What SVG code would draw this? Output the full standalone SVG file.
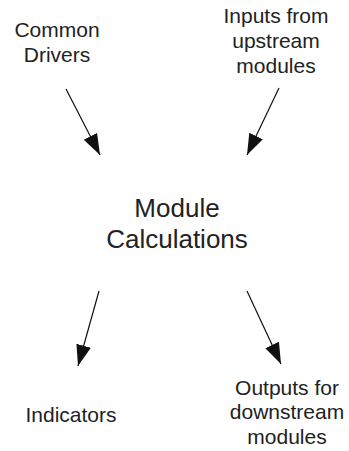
<svg xmlns="http://www.w3.org/2000/svg" width="349" height="451" viewBox="0 0 349 451">
<defs>
<style>
text{font-family:"Liberation Sans",Arial,sans-serif;fill:#222;text-anchor:middle}
.s{font-size:21px}
.b{font-size:26px}
.c{stroke:#111;stroke-width:1.2;fill:none;marker-end:url(#ah)}
</style>
<marker id="ah" markerUnits="userSpaceOnUse" markerWidth="22" markerHeight="16" refX="21" refY="7.5" orient="auto">
<path d="M0,0 L21,7.5 L0,15 z" fill="#111"/>
</marker>
</defs>
<rect width="349" height="451" fill="#fff"/>
<g id="connectors">
<line class="c" x1="66" y1="89" x2="100" y2="155"/>
<line class="c" x1="279" y1="88" x2="247" y2="155"/>
<line class="c" x1="99" y1="291" x2="78" y2="366"/>
<line class="c" x1="247" y1="291" x2="281" y2="364"/>
</g>
<g id="common-drivers">
<text class="s" x="57" y="37">Common</text>
<text class="s" x="57" y="62">Drivers</text>
</g>
<g id="inputs-upstream">
<text class="s" x="276" y="23">Inputs from</text>
<text class="s" x="276" y="48">upstream</text>
<text class="s" x="276" y="73">modules</text>
</g>
<g id="module-calculations">
<text class="b" x="177" y="217">Module</text>
<text class="b" x="177" y="248">Calculations</text>
</g>
<g id="indicators">
<text class="s" x="71" y="422">Indicators</text>
</g>
<g id="outputs-downstream">
<text class="s" x="287" y="395">Outputs for</text>
<text class="s" x="287" y="419">downstream</text>
<text class="s" x="287" y="444">modules</text>
</g>
</svg>
